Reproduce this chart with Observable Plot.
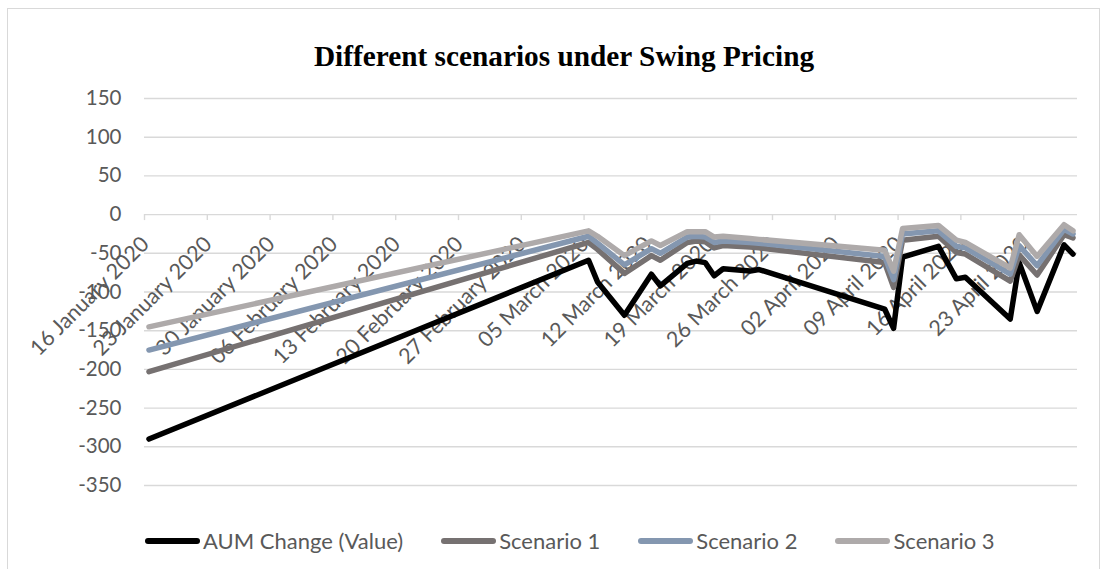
<!DOCTYPE html>
<html><head><meta charset="utf-8">
<script src="https://cdn.jsdelivr.net/npm/d3@7"></script>
<script src="https://cdn.jsdelivr.net/npm/@observablehq/plot@0.6"></script>
<style>
body{margin:0;background:#fff;}
#wrap{position:relative;width:1108px;height:569px;overflow:hidden;font-family:Lato,"Open Sans",sans-serif;}
#frame{position:absolute;left:7px;top:8px;width:1093px;height:620px;border:1px solid #d9d9d9;box-sizing:border-box;}
#title{position:absolute;left:0;width:1128px;top:38px;text-align:center;font:bold 29.3px "Liberation Serif","Times New Roman",serif;color:#000;line-height:36px;}
#chart{position:absolute;left:0;top:80px;}
#legend{position:absolute;top:527px;left:145px;display:flex;gap:38px;align-items:center;font-size:22px;color:#595959;}
.item{display:flex;align-items:center;gap:3px;}
.sw{width:55px;height:6px;border-radius:3px;}
</style></head>
<body><div id="wrap"><div id="frame"></div><div id="title"></div><div id="chart"></div><div id="legend"></div></div>
<script>
const chartTitle = "Different scenarios under Swing Pricing";
const dates = ["2020-01-16","2020-03-05","2020-03-06","2020-03-09","2020-03-12","2020-03-13","2020-03-16","2020-03-17","2020-03-18","2020-03-19","2020-03-20","2020-03-23","2020-03-24","2020-04-07","2020-04-08","2020-04-09","2020-04-13","2020-04-15","2020-04-16","2020-04-21","2020-04-22","2020-04-24","2020-04-27","2020-04-28"];
const aumChange = [-290,-59,-87,-130,-77,-92,-63,-60,-62,-79,-70,-73,-71,-122,-147,-55,-41,-83,-81,-135,-62,-125,-39,-51];
const scenario1 = [-203,-36,-45,-76,-53,-59,-36,-34,-35,-43,-40,-42,-43,-62,-94,-33,-28,-49,-51,-86,-52,-78,-26,-30];
const scenario2 = [-175,-28,-37,-65,-44,-50,-29,-28,-29,-36,-34,-36,-37,-54,-84,-25,-21,-41,-43,-77,-40,-66,-19,-25];
const scenario3 = [-145,-21,-28,-53,-34,-40,-22,-22,-22,-29,-28,-31,-32,-46,-73,-18,-14,-33,-36,-69,-26,-54,-13,-21];
const seriesNames = ["AUM Change (Value)","Scenario 1","Scenario 2","Scenario 3"];
const seriesColors = ["#000000","#767171","#8497B0","#AEAAAA"];
const yTicks = [150,100,50,0,-50,-100,-150,-200,-250,-300,-350];
const xTickDates = ["2020-01-16","2020-01-23","2020-01-30","2020-02-06","2020-02-13","2020-02-20","2020-02-27","2020-03-05","2020-03-12","2020-03-19","2020-03-26","2020-04-02","2020-04-09","2020-04-16","2020-04-23"];
const xTickLabels = ["16 January 2020","23 January 2020","30 January 2020","06 February 2020","13 February 2020","20 February 2020","27 February 2020","05 March 2020","12 March 2020","19 March 2020","26 March 2020","02 April 2020","09 April 2020","16 April 2020","23 April 2020"];
const xStart = "2020-01-16", xEnd = "2020-04-29";

document.getElementById("title").textContent = chartTitle;

const allSeries = [aumChange, scenario1, scenario2, scenario3];
const rows = [];
allSeries.forEach((vals, i) => vals.forEach((v, j) => rows.push({series: seriesNames[i], date: new Date(dates[j] + "T12:00:00Z"), value: v})));
const ticks = xTickDates.map((d, i) => ({date: new Date(d + "T00:00:00Z"), label: xTickLabels[i]}));

const H = 450, mT = 18, mB = 45;
const yDomain = [-350, 150];
const unitsPerPx = (yDomain[1] - yDomain[0]) / (H - mT - mB);
const tickLen = 6 * unitsPerPx;

const chart = Plot.plot({
  width: 1108, height: H,
  marginLeft: 144, marginRight: 31, marginTop: mT, marginBottom: mB,
  style: {fontFamily: "Lato, 'Open Sans', sans-serif", background: "transparent"},
  x: {type: "utc", domain: [new Date(xStart + "T00:00:00Z"), new Date(xEnd + "T00:00:00Z")], axis: null},
  y: {domain: yDomain, ticks: yTicks, tickFormat: d => String(d), tickSize: 0, tickPadding: 23, label: null},
  color: {domain: seriesNames, range: seriesColors},
  marks: [
    Plot.ruleY(yTicks, {stroke: "#d9d9d9", strokeWidth: 1.4}),
    Plot.ruleX(ticks, {x: "date", y1: 0, y2: -tickLen, stroke: "#d9d9d9", strokeWidth: 1.4}),
    Plot.text(ticks, {x: "date", y: () => 0, text: "label", rotate: -45, textAnchor: "end", dx: 1, dy: 26, fill: "#595959", fontSize: 21.5}),
    Plot.line(rows, {x: "date", y: "value", z: "series", stroke: "series", strokeWidth: 5.5, strokeLinejoin: "round", strokeLinecap: "round"})
  ]
});
d3.select(chart).selectAll("g[aria-label='y-axis tick label'], g[aria-label='y-axis']").attr("fill", "#595959").attr("font-size", 20.5);
document.getElementById("chart").appendChild(chart);

const legend = document.getElementById("legend");
seriesNames.forEach((n, i) => {
  const it = document.createElement("div"); it.className = "item";
  const sw = document.createElement("div"); sw.className = "sw"; sw.style.background = seriesColors[i];
  const tx = document.createElement("span"); tx.textContent = n;
  it.appendChild(sw); it.appendChild(tx); legend.appendChild(it);
});
</script></body></html>
